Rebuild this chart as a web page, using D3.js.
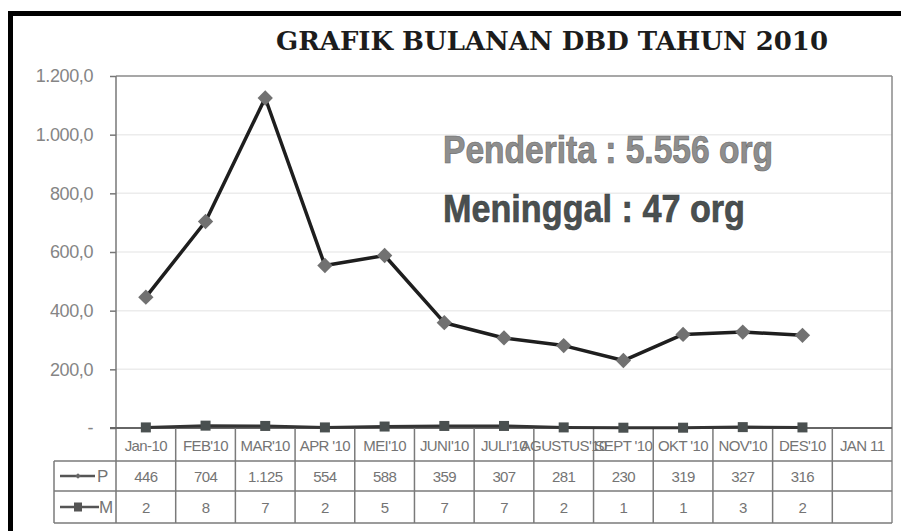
<!DOCTYPE html>
<html>
<head>
<meta charset="utf-8">
<script src="https://cdn.jsdelivr.net/npm/d3@7"></script>
<style>
  html, body { margin: 0; padding: 0; background: #fff; }
  svg { display: block; }
</style>
</head>
<body>
<div class="vis-linechart"></div>
<script>
// data
const months = ["Jan-10", "FEB'10", "MAR'10", "APR '10", "MEI'10", "JUNI'10", "JULI'10", "AGUSTUS'10", "SEPT '10", "OKT '10", "NOV'10", "DES'10", "JAN 11"];
const penderita = [446, 704, 1125, 554, 588, 359, 307, 281, 230, 319, 327, 316, null];
const meninggal = [2, 8, 7, 2, 5, 7, 7, 2, 1, 1, 3, 2, null];
const pLabels = ["446", "704", "1.125", "554", "588", "359", "307", "281", "230", "319", "327", "316", ""];
const yTicks = [0, 200, 400, 600, 800, 1000, 1200];
const yTickLabels = ["-", "200,0", "400,0", "600,0", "800,0", "1.000,0", "1.200,0"];

const width = 901, height = 531;
const margin = {top: 76, right: 8, bottom: 103, left: 116};
const tableLeft = 54;
const rowH = [33, 30, 32];

const svg = d3.select('.vis-linechart').append('svg')
  .attr('width', width)
  .attr('height', height);

// black frame (left + top)
svg.append('rect').attr('x', 8).attr('y', 11).attr('width', width - 8).attr('height', 5).attr('fill', '#000');
svg.append('rect').attr('x', 8).attr('y', 11).attr('width', 5).attr('height', height - 11).attr('fill', '#000');

const plotR = width - margin.right - 1; // 892
const zeroY = height - margin.bottom;   // 428

const xScale = d3.scaleBand()
  .domain(months)
  .range([margin.left, plotR])
  .padding(0);

const yScale = d3.scaleLinear()
  .domain([0, 1200])
  .range([zeroY, margin.top]);

// grid lines
svg.append('g').selectAll('line')
  .data(yTicks.slice(1, -1))
  .enter().append('line')
    .attr('x1', margin.left).attr('x2', plotR)
    .attr('y1', d => yScale(d)).attr('y2', d => yScale(d))
    .attr('stroke', '#ececec').attr('stroke-width', 1.5);

// y axis
const yAxis = d3.axisLeft(yScale)
  .tickValues(yTicks)
  .tickSize(6)
  .tickPadding(17)
  .tickFormat((d, i) => yTickLabels[i]);
const gY = svg.append('g')
  .attr('transform', `translate(${margin.left},0)`)
  .call(yAxis);
gY.select('.domain').remove();
gY.selectAll('line').attr('stroke', '#777').attr('stroke-width', 1.5);
gY.selectAll('text')
  .attr('fill', '#858585')
  .style('font-family', '"Liberation Sans", Arial, sans-serif')
  .style('font-size', '18px')
  .style('letter-spacing', '-0.4px');

// plot frame
const tableBottom = zeroY + rowH[0] + rowH[1] + rowH[2];
svg.append('line').attr('x1', margin.left).attr('x2', plotR).attr('y1', margin.top).attr('y2', margin.top)
  .attr('stroke', '#8a8a8a').attr('stroke-width', 1.5);
svg.append('line').attr('x1', plotR).attr('x2', plotR).attr('y1', margin.top).attr('y2', tableBottom)
  .attr('stroke', '#8a8a8a').attr('stroke-width', 1.5);
svg.append('line').attr('x1', margin.left).attr('x2', margin.left).attr('y1', margin.top).attr('y2', tableBottom)
  .attr('stroke', '#777').attr('stroke-width', 1.5);

// data table
const table = svg.append('g');
const rowY = [zeroY, zeroY + rowH[0], zeroY + rowH[0] + rowH[1], tableBottom];
table.selectAll('line.h')
  .data(rowY)
  .enter().append('line')
    .attr('class', 'h')
    .attr('x1', (d, i) => i === 0 ? margin.left - 6 : tableLeft)
    .attr('x2', plotR)
    .attr('y1', d => d).attr('y2', d => d)
    .attr('stroke', (d, i) => i === 0 ? '#666' : '#7a7a7a')
    .attr('stroke-width', (d, i) => i === 0 ? 2 : 1.5);
table.selectAll('line.v')
  .data(months.slice(1))
  .enter().append('line')
    .attr('class', 'v')
    .attr('x1', d => xScale(d)).attr('x2', d => xScale(d))
    .attr('y1', zeroY).attr('y2', tableBottom)
    .attr('stroke', '#7a7a7a').attr('stroke-width', 1.5);
table.append('line')
  .attr('x1', tableLeft).attr('x2', tableLeft)
  .attr('y1', rowY[1]).attr('y2', tableBottom)
  .attr('stroke', '#7a7a7a').attr('stroke-width', 1.5);

const cellFont = g => g
  .style('font-family', '"Liberation Sans", Arial, sans-serif')
  .style('font-size', '15px')
  .style('letter-spacing', '-0.6px')
  .attr('fill', '#747474')
  .attr('text-anchor', 'middle')
  .attr('dominant-baseline', 'central');

table.selectAll('text.cat')
  .data(months)
  .enter().append('text')
    .attr('class', 'cat')
    .attr('x', d => xScale(d) + xScale.bandwidth() / 2)
    .attr('y', (rowY[0] + rowY[1]) / 2 + 1)
    .text(d => d)
    .call(cellFont);

table.selectAll('text.p')
  .data(pLabels)
  .enter().append('text')
    .attr('class', 'p')
    .attr('x', (d, i) => xScale(months[i]) + xScale.bandwidth() / 2)
    .attr('y', (rowY[1] + rowY[2]) / 2)
    .text(d => d)
    .call(cellFont);

table.selectAll('text.m')
  .data(meninggal)
  .enter().append('text')
    .attr('class', 'm')
    .attr('x', (d, i) => xScale(months[i]) + xScale.bandwidth() / 2)
    .attr('y', (rowY[2] + rowY[3]) / 2)
    .text(d => d == null ? '' : d)
    .call(cellFont);

// legend keys inside table
const keyP = (rowY[1] + rowY[2]) / 2, keyM = (rowY[2] + rowY[3]) / 2;
table.append('line').attr('x1', 60).attr('x2', 95).attr('y1', keyP).attr('y2', keyP)
  .attr('stroke', '#555').attr('stroke-width', 2.5);
table.append('path').attr('d', d3.symbol(d3.symbolDiamond2, 20)())
  .attr('transform', `translate(78,${keyP})`).attr('fill', '#666');
table.append('text').attr('x', 97).attr('y', keyP).text('P')
  .call(cellFont).attr('text-anchor', 'start').style('font-size', '17px');
table.append('line').attr('x1', 60).attr('x2', 99).attr('y1', keyM).attr('y2', keyM)
  .attr('stroke', '#555').attr('stroke-width', 2.5);
table.append('rect').attr('x', 74).attr('y', keyM - 4.5).attr('width', 8).attr('height', 9).attr('fill', '#555');
table.append('text').attr('x', 99).attr('y', keyM).text('M')
  .call(cellFont).attr('text-anchor', 'start').style('font-size', '17px');

// series
const xc = (d, i) => xScale(months[i]) + xScale.bandwidth() / 2;
const lineGen = d3.line()
  .defined(d => d != null)
  .x(xc)
  .y(d => yScale(d));

svg.append('path')
  .datum(meninggal)
  .attr('d', lineGen)
  .attr('fill', 'none').attr('stroke', '#333').attr('stroke-width', 3);
svg.append('g').selectAll('rect')
  .data(meninggal.map((v, i) => ({v, i})).filter(d => d.v != null))
  .enter().append('rect')
    .attr('x', d => xc(d.v, d.i) - 5)
    .attr('y', d => yScale(d.v) - 5)
    .attr('width', 10).attr('height', 10)
    .attr('fill', '#4a5050');

svg.append('path')
  .datum(penderita)
  .attr('d', lineGen)
  .attr('fill', 'none').attr('stroke', '#1e1e1e').attr('stroke-width', 3.5)
  .attr('stroke-linejoin', 'round');
svg.append('g').selectAll('path')
  .data(penderita.map((v, i) => ({v, i})).filter(d => d.v != null))
  .enter().append('path')
    .attr('d', d3.symbol(d3.symbolDiamond2, 150)())
    .attr('transform', d => `translate(${xc(d.v, d.i)},${yScale(d.v)})`)
    .attr('fill', '#717171');

// title
svg.append('text')
  .attr('x', 276).attr('y', 50)
  .attr('textLength', 552).attr('lengthAdjust', 'spacingAndGlyphs')
  .style('font-family', '"DejaVu Serif", serif')
  .style('font-weight', 'bold')
  .style('font-size', '26px')
  .attr('fill', '#1c1c1c')
  .text('GRAFIK BULANAN DBD TAHUN 2010');

// annotations
svg.append('text')
  .attr('x', 443).attr('y', 163)
  .attr('textLength', 330).attr('lengthAdjust', 'spacingAndGlyphs')
  .style('font-family', '"Liberation Sans Narrow", "Liberation Sans", Arial, sans-serif')
  .style('font-weight', 'bold')
  .style('font-size', '39px')
  .attr('fill', '#8e8e8e').attr('stroke', '#6a6a6a').attr('stroke-width', 0.7)
  .text('Penderita : 5.556 org');
svg.append('text')
  .attr('x', 443).attr('y', 222)
  .attr('textLength', 302).attr('lengthAdjust', 'spacingAndGlyphs')
  .style('font-family', '"Liberation Sans Narrow", "Liberation Sans", Arial, sans-serif')
  .style('font-weight', 'bold')
  .style('font-size', '39px')
  .attr('fill', '#4a5050').attr('stroke', '#383c3c').attr('stroke-width', 0.6)
  .text('Meninggal : 47 org');
</script>
</body>
</html>
